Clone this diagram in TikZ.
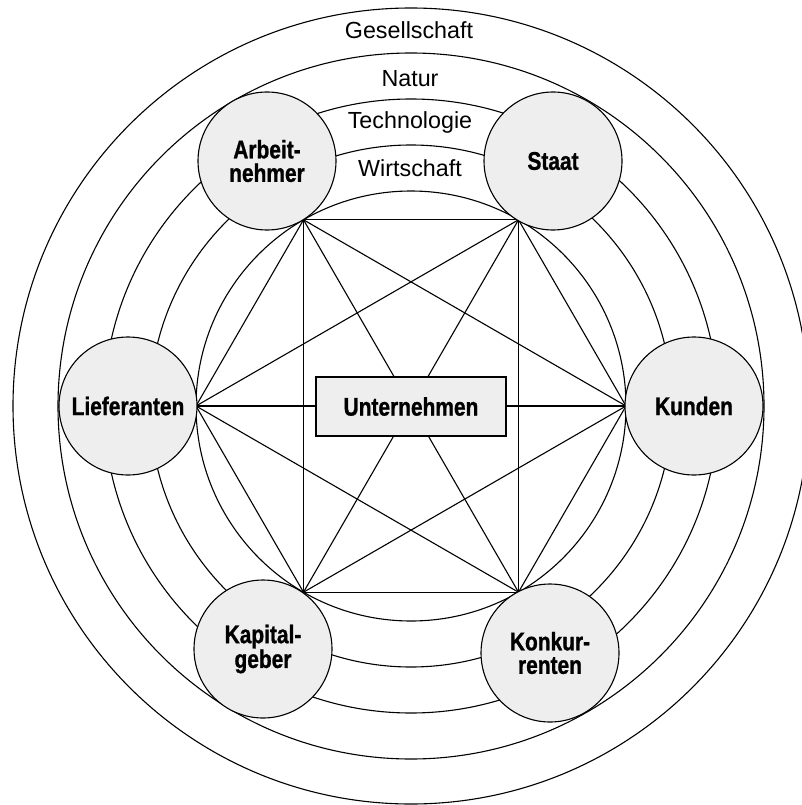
\documentclass[tikz,border=0pt]{standalone}
\usepackage{fontspec}
\setmainfont{Liberation Sans}
\newfontfamily\ringfont{Liberation Sans}
\newfontfamily\labfont{Liberation Sans}[FakeStretch=0.82,BoldFeatures={FakeBold=1}]
\definecolor{nodefill}{HTML}{EEEEEE}
\tikzset{
  ring/.style={draw=black, line width=1.1pt},
  link/.style={draw=black, line width=1.1pt},
  party/.style={circle, draw=black, line width=1.1pt, fill=nodefill,
    minimum size=138pt, inner sep=0pt, align=center,
    font=\labfont\bfseries\fontsize{25.5}{23.5}\selectfont},
  firm/.style={rectangle, draw=black, line width=1.1pt, fill=nodefill,
    minimum width=190pt, minimum height=59pt, inner sep=0pt,
    font=\labfont\bfseries\fontsize{25.5}{23.5}\selectfont},
  ringlabel/.style={anchor=base, inner sep=0pt,
    font=\ringfont\fontsize{23.3}{26}\selectfont}
}
\begin{document}
\begin{tikzpicture}[x=1pt,y=-1pt]
\useasboundingbox (0,0) rectangle (802,805);
\clip (0,0) rectangle (802,805);
\coordinate (c) at (411,406);
% rings
\foreach \r in {215,261,307,353,398} {
  \draw[ring] (c) circle[radius=\r pt];
}
% ring labels
\node[ringlabel] (lg) at (409,39) {Gesellschaft};
\node[ringlabel] (ln) at (410,87) {Natur};
\node[ringlabel] (lt) at (410,129) {Technologie};
\node[ringlabel] (lw) at (410,177) {Wirtschaft};
% hexagon vertices
\coordinate (v0) at (626,406);
\coordinate (v1) at (518.5,219.8);
\coordinate (v2) at (303.5,219.8);
\coordinate (v3) at (196,406);
\coordinate (v4) at (303.5,592.2);
\coordinate (v5) at (518.5,592.2);
% complete graph
\foreach \a/\b in {v0/v1,v0/v2,v0/v3,v0/v4,v0/v5,
                   v1/v2,v1/v3,v1/v4,v1/v5,
                   v2/v3,v2/v4,v2/v5,
                   v3/v4,v3/v5,
                   v4/v5} {
  \draw[link] (\a) -- (\b);
}
% parties
\node[party] (arb) at (267,161) {Arbeit-\\nehmer};
\node[party] (sta) at (553,161) {Staat};
\node[party] (lie) at (128,406) {Lieferanten};
\node[party] (kun) at (694,406) {Kunden};
\node[party] (kap) at (263,649) {Kapital-\\geber};
\node[party] (kon) at (550,653) {Konkur-\\renten};
% firm
\node[firm] (unt) at (411,406.5) {Unternehmen};
\end{tikzpicture}
\end{document}
